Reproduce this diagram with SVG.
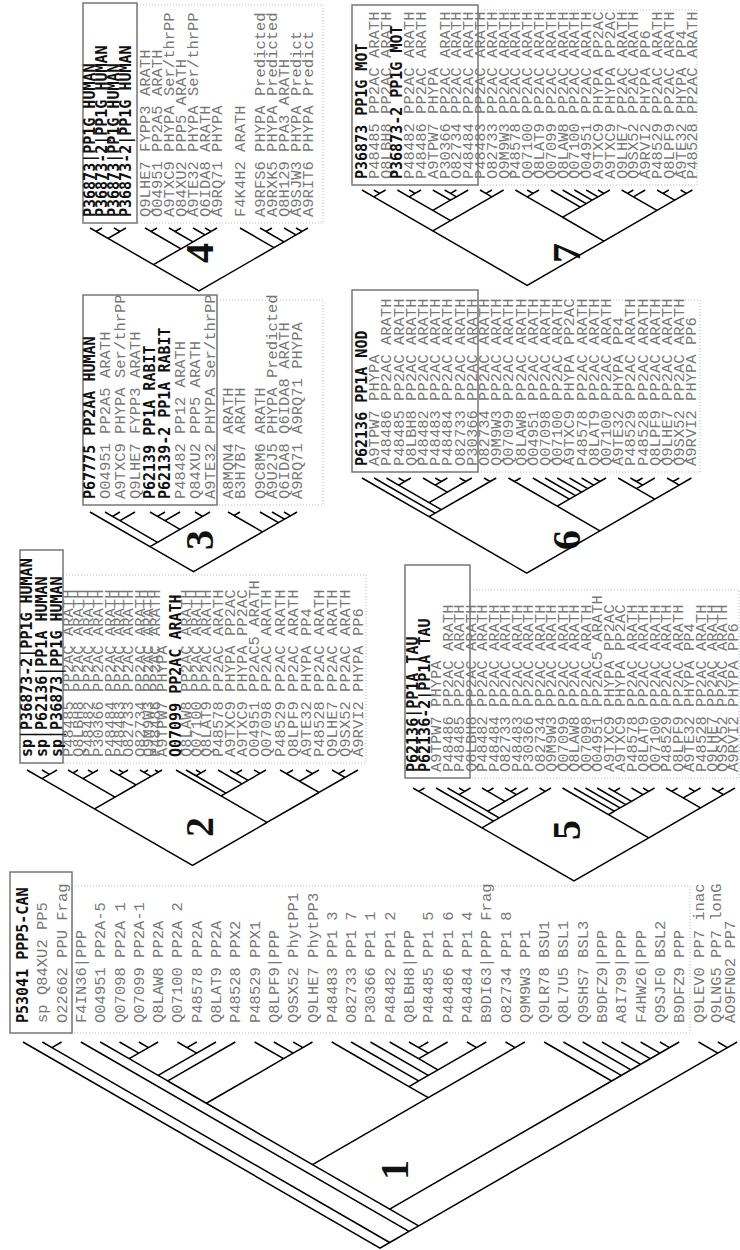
<svg xmlns="http://www.w3.org/2000/svg" width="740" height="1250" viewBox="0 0 740 1250">
<style>
.lb{font-family:"Liberation Mono",monospace;font-size:15.5px;fill:#777;white-space:pre}
.bd{font-family:"DejaVu Sans Mono",monospace;font-weight:bold;font-size:15px;fill:#111;white-space:pre}
.br{fill:none;stroke:#000;stroke-width:1.5;vector-effect:non-scaling-stroke;stroke-linejoin:miter}
.sb{fill:none;stroke:#777;stroke-width:1.5}
.db{fill:none;stroke:#bbb;stroke-width:1;stroke-dasharray:1 2}
.num{font-family:"Liberation Serif",serif;font-weight:bold;font-size:40px;fill:#111;text-anchor:middle}
</style>
<rect width="740" height="1250" fill="#fff"/>

<!-- TREE 1 -->
<g id="tree1">
<rect class="db" x="72" y="886" width="618" height="147"/>
<rect class="sb" x="10" y="872" width="62" height="161"/>
<g id="t1-labels">
<text class="bd" transform="translate(28 1023) rotate(-90)">P53041 PPP5-CAN</text>
<text class="lb" transform="translate(47.3 1023) rotate(-90)">sp Q84XU2 PP5</text>
<text class="lb" transform="translate(66.6 1023) rotate(-90)">O22662 PPU Frag</text>
<text class="lb" transform="translate(85.9 1023) rotate(-90)">F4IN36|PPP</text>
<text class="lb" transform="translate(105.2 1023) rotate(-90)">O04951 PP2A-5</text>
<text class="lb" transform="translate(124.5 1023) rotate(-90)">Q07098 PP2A 1</text>
<text class="lb" transform="translate(143.8 1023) rotate(-90)">Q07099 PP2A-1</text>
<text class="lb" transform="translate(163.1 1023) rotate(-90)">Q8LAW8 PP2A</text>
<text class="lb" transform="translate(182.4 1023) rotate(-90)">Q07100 PP2A 2</text>
<text class="lb" transform="translate(201.7 1023) rotate(-90)">P48578 PP2A</text>
<text class="lb" transform="translate(221 1023) rotate(-90)">Q8LAT9 PP2A</text>
<text class="lb" transform="translate(240.3 1023) rotate(-90)">P48528 PPX2</text>
<text class="lb" transform="translate(259.6 1023) rotate(-90)">P48529 PPX1</text>
<text class="lb" transform="translate(278.9 1023) rotate(-90)">Q8LPF9|PPP</text>
<text class="lb" transform="translate(298.2 1023) rotate(-90)">Q9SX52 PhytPP1</text>
<text class="lb" transform="translate(317.5 1023) rotate(-90)">Q9LHE7 PhytPP3</text>
<text class="lb" transform="translate(336.8 1023) rotate(-90)">P48483 PP1 3</text>
<text class="lb" transform="translate(356.1 1023) rotate(-90)">O82733 PP1 7</text>
<text class="lb" transform="translate(375.4 1023) rotate(-90)">P30366 PP1 1</text>
<text class="lb" transform="translate(394.7 1023) rotate(-90)">P48482 PP1 2</text>
<text class="lb" transform="translate(414 1023) rotate(-90)">Q8LBH8|PPP</text>
<text class="lb" transform="translate(433.3 1023) rotate(-90)">P48485 PP1 5</text>
<text class="lb" transform="translate(452.6 1023) rotate(-90)">P48486 PP1 6</text>
<text class="lb" transform="translate(471.9 1023) rotate(-90)">P48484 PP1 4</text>
<text class="lb" transform="translate(491.2 1023) rotate(-90)">B9DI63|PPP Frag</text>
<text class="lb" transform="translate(510.5 1023) rotate(-90)">O82734 PP1 8</text>
<text class="lb" transform="translate(529.8 1023) rotate(-90)">Q9M9W3 PP1</text>
<text class="lb" transform="translate(549.1 1023) rotate(-90)">Q9LR78 BSU1</text>
<text class="lb" transform="translate(568.4 1023) rotate(-90)">Q8L7U5 BSL1</text>
<text class="lb" transform="translate(587.7 1023) rotate(-90)">Q9SHS7 BSL3</text>
<text class="lb" transform="translate(607 1023) rotate(-90)">B9DFZ9|PPP</text>
<text class="lb" transform="translate(626.3 1023) rotate(-90)">A8I799|PPP</text>
<text class="lb" transform="translate(645.6 1023) rotate(-90)">F4HW26|PPP</text>
<text class="lb" transform="translate(664.9 1023) rotate(-90)">Q9SJF0 BSL2</text>
<text class="lb" transform="translate(684.2 1023) rotate(-90)">B9DFZ9 PPP</text>
<text class="lb" transform="translate(703.5 1023) rotate(-90)">Q9LEV0 PP7 inac</text>
<text class="lb" transform="translate(721 1023) rotate(-90)">Q9LNG5 PP7 lonG</text>
<text class="lb" transform="translate(735 1023) rotate(-90)">AO9FN02 PP7</text>
</g>
<text id="t1-num" class="num" transform="translate(408 1170) rotate(-90)">1</text>
</g>

<!-- TREE 2 -->
<g id="tree2">
<rect class="db" x="63" y="575" width="303" height="188"/>
<rect class="sb" x="20" y="550" width="43" height="213"/>
<g id="t2-labels">
<text class="bd" transform="translate(32 757) rotate(-90)">sp|P36873-2|PP1G HUMAN</text>
<text class="bd" transform="translate(47 757) rotate(-90)">sp|P62136|PP1A HUMAN</text>
<text class="bd" transform="translate(62 757) rotate(-90)">sp|P36873|PP1G HUMAN</text>
<text class="lb" transform="translate(73 757) rotate(-90)">P48485 PP2AC ARATH</text>
<text class="lb" transform="translate(83 757) rotate(-90)">Q8LBH8 PP2AC ARATH</text>
<text class="lb" transform="translate(93 757) rotate(-90)">P48482 PP2AC ARATH</text>
<text class="lb" transform="translate(103 757) rotate(-90)">P30366 PP2AC ARATH</text>
<text class="lb" transform="translate(115 757) rotate(-90)">P48484 PP2AC ARATH</text>
<text class="lb" transform="translate(124 757) rotate(-90)">P48483 PP2AC ARATH</text>
<text class="lb" transform="translate(133 757) rotate(-90)">O82733 PP2AC ARATH</text>
<text class="lb" transform="translate(145 757) rotate(-90)">O82734 PP2AC ARATH</text>
<text class="lb" transform="translate(153 757) rotate(-90)">Q9M9W3 PP2AC ARATH</text>
<text class="lb" transform="translate(160 757) rotate(-90)">P48486 PP2AC ARATH</text>
<text class="lb" transform="translate(167 757) rotate(-90)">A9TPW7 PHYPA</text>
<text class="bd" transform="translate(181 757) rotate(-90)">Q07099 PP2AC ARATH</text>
<text class="lb" transform="translate(191 757) rotate(-90)">Q8LAW8 PP2AC ARATH</text>
<text class="lb" transform="translate(201 757) rotate(-90)">Q07100 PP2AC ARATH</text>
<text class="lb" transform="translate(211 757) rotate(-90)">Q8LAT9 PP2AC ARATH</text>
<text class="lb" transform="translate(223 757) rotate(-90)">P48578 PP2AC ARATH</text>
<text class="lb" transform="translate(235 757) rotate(-90)">A9TXC9 PHYPA PP2AC</text>
<text class="lb" transform="translate(247 757) rotate(-90)">A9TXC9 PHYPA PP2AC</text>
<text class="lb" transform="translate(259 757) rotate(-90)">O04951 PP2AC5 ARATH</text>
<text class="lb" transform="translate(271 757) rotate(-90)">Q07098 PP2AC ARATH</text>
<text class="lb" transform="translate(285 757) rotate(-90)">P48529 PP2AC ARATH</text>
<text class="lb" transform="translate(298 757) rotate(-90)">Q8LPF9 PP2AC ARATH</text>
<text class="lb" transform="translate(311 757) rotate(-90)">A9TE32 PHYPA PP4</text>
<text class="lb" transform="translate(324 757) rotate(-90)">P48528 PP2AC ARATH</text>
<text class="lb" transform="translate(337 757) rotate(-90)">Q9LHE7 PP2AC ARATH</text>
<text class="lb" transform="translate(350 757) rotate(-90)">Q9SX52 PP2AC ARATH</text>
<text class="lb" transform="translate(363 757) rotate(-90)">A9RVI2 PHYPA PP6</text>
</g>
<text id="t2-num" class="num" transform="translate(213 827) rotate(-90)">2</text>
</g>

<!-- TREE 3 -->
<g id="tree3">
<rect class="db" x="217" y="300" width="106" height="205"/>
<rect class="sb" x="83" y="295" width="134" height="210"/>
<g id="t3-labels">
<text class="bd" transform="translate(95 499) rotate(-90)">P67775 PP2AA HUMAN</text>
<text class="lb" transform="translate(110 499) rotate(-90)">O04951 PP2A5 ARATH</text>
<text class="lb" transform="translate(125 499) rotate(-90)">A9TXC9 PHYPA Ser/thrPP</text>
<text class="lb" transform="translate(140 499) rotate(-90)">Q9LHE7 FYPP3 ARATH</text>
<text class="bd" transform="translate(155 499) rotate(-90)">P62139 PP1A RABIT</text>
<text class="bd" transform="translate(170 499) rotate(-90)">P62139-2 PP1A RABIT</text>
<text class="lb" transform="translate(185 499) rotate(-90)">P48482 PP12 ARATH</text>
<text class="lb" transform="translate(200 499) rotate(-90)">Q84XU2 PPP5 ARATH</text>
<text class="lb" transform="translate(215 499) rotate(-90)">A9TE32 PHYPA Ser/thrPP</text>
<text class="lb" transform="translate(233 499) rotate(-90)">A8MQN4 ARATH</text>
<text class="lb" transform="translate(245 499) rotate(-90)">B3H7B7 ARATH</text>
<text class="lb" transform="translate(265 499) rotate(-90)">Q9C8M6 ARATH</text>
<text class="lb" transform="translate(277 499) rotate(-90)">A9U2J5 PHYPA Predicted</text>
<text class="lb" transform="translate(289 499) rotate(-90)">Q6IDA8 Q6IDA8 ARATH</text>
<text class="lb" transform="translate(302 499) rotate(-90)">A9RQ71 A9RQ71 PHYPA</text>
</g>
<text id="t3-num" class="num" transform="translate(213 540) rotate(-90)">3</text>
</g>

<!-- TREE 4 -->
<g id="tree4">
<rect class="db" x="137" y="5" width="186" height="218"/>
<rect class="sb" x="83" y="3" width="54" height="220"/>
<g id="t4-labels">
<text class="bd" transform="translate(95 217) rotate(-90)">P36873|PP1G HUMAN</text>
<text class="bd" transform="translate(107 217) rotate(-90)">P36873-2|PP1G HUMAN</text>
<text class="bd" transform="translate(119 217) rotate(-90)">P36873|PP1G HUMAN</text>
<text class="bd" transform="translate(131 217) rotate(-90)">P36873-2|PP1G HUMAN</text>
<text class="lb" transform="translate(150 217) rotate(-90)">Q9LHE7 FYPP3 ARATH</text>
<text class="lb" transform="translate(162 217) rotate(-90)">O04951 PP2A5 ARATH</text>
<text class="lb" transform="translate(174 217) rotate(-90)">A9TXC9 PHYPA Ser/thrPP</text>
<text class="lb" transform="translate(186 217) rotate(-90)">Q84XU2 PPP5 ARATH</text>
<text class="lb" transform="translate(198 217) rotate(-90)">A9TE32 PHYPA Ser/thrPP</text>
<text class="lb" transform="translate(210 217) rotate(-90)">Q6IDA8 ARATH</text>
<text class="lb" transform="translate(222 217) rotate(-90)">A9RQ71 PHYPA</text>
<text class="lb" transform="translate(245 217) rotate(-90)">F4K4H2 ARATH</text>
<text class="lb" transform="translate(265 217) rotate(-90)">A9RFS6 PHYPA Predicted</text>
<text class="lb" transform="translate(277 217) rotate(-90)">A9RXK5 PHYPA Predicted</text>
<text class="lb" transform="translate(289 217) rotate(-90)">Q8H129 PPA3 ARATH</text>
<text class="lb" transform="translate(301 217) rotate(-90)">A9SJW3 PHYPA Predict</text>
<text class="lb" transform="translate(313 217) rotate(-90)">A9RIT6 PHYPA Predict</text>
</g>
<text id="t4-num" class="num" transform="translate(213 253) rotate(-90)">4</text>
</g>

<!-- TREE 5 -->
<g id="tree5">
<rect class="db" x="470" y="590" width="269" height="188"/>
<rect class="sb" x="405" y="565" width="65" height="213"/>
<g id="t5-labels">
<text class="bd" transform="translate(418 772) rotate(-90)">P62136|PP1A TAU</text>
<text class="bd" transform="translate(429.5 772) rotate(-90)">P62136-2|PP1A TAU</text>
<text class="lb" transform="translate(441 772) rotate(-90)">A9TPW7 PHYPA</text>
<text class="lb" transform="translate(452.5 772) rotate(-90)">P48486 PP2AC ARATH</text>
<text class="lb" transform="translate(464 772) rotate(-90)">P48485 PP2AC ARATH</text>
<text class="lb" transform="translate(475.5 772) rotate(-90)">Q8LBH8 PP2AC ARATH</text>
<text class="lb" transform="translate(487 772) rotate(-90)">P48482 PP2AC ARATH</text>
<text class="lb" transform="translate(498.5 772) rotate(-90)">P48484 PP2AC ARATH</text>
<text class="lb" transform="translate(510 772) rotate(-90)">O82733 PP2AC ARATH</text>
<text class="lb" transform="translate(521.5 772) rotate(-90)">P48483 PP2AC ARATH</text>
<text class="lb" transform="translate(533 772) rotate(-90)">P30366 PP2AC ARATH</text>
<text class="lb" transform="translate(544.5 772) rotate(-90)">O82734 PP2AC ARATH</text>
<text class="lb" transform="translate(556 772) rotate(-90)">Q9M9W3 PP2AC ARATH</text>
<text class="lb" transform="translate(567.5 772) rotate(-90)">Q07099 PP2AC ARATH</text>
<text class="lb" transform="translate(579 772) rotate(-90)">Q8LAW8 PP2AC ARATH</text>
<text class="lb" transform="translate(590.5 772) rotate(-90)">Q07098 PP2AC ARATH</text>
<text class="lb" transform="translate(602 772) rotate(-90)">O04951 PP2AC5 ARATH</text>
<text class="lb" transform="translate(613.5 772) rotate(-90)">A9TXC9 PHYPA PP2AC</text>
<text class="lb" transform="translate(625 772) rotate(-90)">A9TXC9 PHYPA PP2AC</text>
<text class="lb" transform="translate(636.5 772) rotate(-90)">P48578 PP2AC ARATH</text>
<text class="lb" transform="translate(648 772) rotate(-90)">Q8LAT9 PP2AC ARATH</text>
<text class="lb" transform="translate(659.5 772) rotate(-90)">Q07100 PP2AC ARATH</text>
<text class="lb" transform="translate(671 772) rotate(-90)">P48529 PP2AC ARATH</text>
<text class="lb" transform="translate(682.5 772) rotate(-90)">Q8LPF9 PP2AC ARATH</text>
<text class="lb" transform="translate(694 772) rotate(-90)">A9TE32 PHYPA PP4</text>
<text class="lb" transform="translate(705.5 772) rotate(-90)">P48528 PP2AC ARATH</text>
<text class="lb" transform="translate(716.5 772) rotate(-90)">Q9LHE7 PP2AC ARATH</text>
<text class="lb" transform="translate(727 772) rotate(-90)">Q9SX52 PP2AC ARATH</text>
<text class="lb" transform="translate(737.5 772) rotate(-90)">A9RVI2 PHYPA PP6</text>
</g>
<text id="t5-num" class="num" transform="translate(580 830) rotate(-90)">5</text>
</g>

<!-- TREE 6 -->
<g id="tree6">
<rect class="db" x="478" y="300" width="222" height="172"/>
<rect class="sb" x="352" y="290" width="126" height="182"/>
<g id="t6-labels">
<text class="bd" transform="translate(367 466) rotate(-90)">P62136 PP1A NOD</text>
<text class="lb" transform="translate(379.2 466) rotate(-90)">A9TPW7 PHYPA</text>
<text class="lb" transform="translate(391.4 466) rotate(-90)">P48486 PP2AC ARATH</text>
<text class="lb" transform="translate(403.6 466) rotate(-90)">P48485 PP2AC ARATH</text>
<text class="lb" transform="translate(415.8 466) rotate(-90)">Q8LBH8 PP2AC ARATH</text>
<text class="lb" transform="translate(428 466) rotate(-90)">P48482 PP2AC ARATH</text>
<text class="lb" transform="translate(440.2 466) rotate(-90)">P48483 PP2AC ARATH</text>
<text class="lb" transform="translate(452.4 466) rotate(-90)">P48484 PP2AC ARATH</text>
<text class="lb" transform="translate(464.6 466) rotate(-90)">O82733 PP2AC ARATH</text>
<text class="lb" transform="translate(476.8 466) rotate(-90)">P30366 PP2AC ARATH</text>
<text class="lb" transform="translate(489 466) rotate(-90)">O82734 PP2AC ARATH</text>
<text class="lb" transform="translate(501.2 466) rotate(-90)">Q9M9W3 PP2AC ARATH</text>
<text class="lb" transform="translate(513.4 466) rotate(-90)">Q07099 PP2AC ARATH</text>
<text class="lb" transform="translate(525.6 466) rotate(-90)">Q8LAW8 PP2AC ARATH</text>
<text class="lb" transform="translate(537.8 466) rotate(-90)">O04951 PP2AC ARATH</text>
<text class="lb" transform="translate(550 466) rotate(-90)">Q07098 PP2AC ARATH</text>
<text class="lb" transform="translate(562.2 466) rotate(-90)">Q07100 PP2AC ARATH</text>
<text class="lb" transform="translate(574.4 466) rotate(-90)">A9TXC9 PHYPA PP2AC</text>
<text class="lb" transform="translate(586.6 466) rotate(-90)">P48578 PP2AC ARATH</text>
<text class="lb" transform="translate(598.8 466) rotate(-90)">Q8LAT9 PP2AC ARATH</text>
<text class="lb" transform="translate(611 466) rotate(-90)">Q07100 PP2AC ARATH</text>
<text class="lb" transform="translate(623.2 466) rotate(-90)">A9TE32 PHYPA PP4</text>
<text class="lb" transform="translate(635.4 466) rotate(-90)">P48529 PP2AC ARATH</text>
<text class="lb" transform="translate(647.6 466) rotate(-90)">P48528 PP2AC ARATH</text>
<text class="lb" transform="translate(659.8 466) rotate(-90)">Q8LPF9 PP2AC ARATH</text>
<text class="lb" transform="translate(672 466) rotate(-90)">Q9LHE7 PP2AC ARATH</text>
<text class="lb" transform="translate(684.2 466) rotate(-90)">Q9SX52 PP2AC ARATH</text>
<text class="lb" transform="translate(696.4 466) rotate(-90)">A9RVI2 PHYPA PP6</text>
</g>
<text id="t6-num" class="num" transform="translate(580 540) rotate(-90)">6</text>
</g>

<!-- TREE 7 -->
<g id="tree7">
<rect class="db" x="478" y="10" width="219" height="175"/>
<rect class="sb" x="352" y="5" width="126" height="180"/>
<g id="t7-labels">
<text class="bd" transform="translate(367 179) rotate(-90)">P36873 PP1G MOT</text>
<text class="lb" transform="translate(378.8 179) rotate(-90)">P48485 PP2AC ARATH</text>
<text class="lb" transform="translate(390.6 179) rotate(-90)">Q8LBH8 PP2AC ARATH</text>
<text class="bd" transform="translate(402.4 179) rotate(-90)">P36873-2 PP1G MOT</text>
<text class="lb" transform="translate(414.2 179) rotate(-90)">P48482 PP2AC ARATH</text>
<text class="lb" transform="translate(426 179) rotate(-90)">P48486 PP2AC ARATH</text>
<text class="lb" transform="translate(437.8 179) rotate(-90)">A9TPW7 PHYPA</text>
<text class="lb" transform="translate(449.6 179) rotate(-90)">P30366 PP2AC ARATH</text>
<text class="lb" transform="translate(461.4 179) rotate(-90)">O82734 PP2AC ARATH</text>
<text class="lb" transform="translate(473.2 179) rotate(-90)">P48484 PP2AC ARATH</text>
<text class="lb" transform="translate(485 179) rotate(-90)">P48483 PP2AC ARATH</text>
<text class="lb" transform="translate(496.8 179) rotate(-90)">O82733 PP2AC ARATH</text>
<text class="lb" transform="translate(508.6 179) rotate(-90)">Q9M9W3 PP2AC ARATH</text>
<text class="lb" transform="translate(520.4 179) rotate(-90)">P48578 PP2AC ARATH</text>
<text class="lb" transform="translate(532.2 179) rotate(-90)">Q07100 PP2AC ARATH</text>
<text class="lb" transform="translate(544 179) rotate(-90)">Q8LAT9 PP2AC ARATH</text>
<text class="lb" transform="translate(555.8 179) rotate(-90)">Q07099 PP2AC ARATH</text>
<text class="lb" transform="translate(567.6 179) rotate(-90)">Q8LAW8 PP2AC ARATH</text>
<text class="lb" transform="translate(579.4 179) rotate(-90)">Q07100 PP2AC ARATH</text>
<text class="lb" transform="translate(591.2 179) rotate(-90)">O04951 PP2AC ARATH</text>
<text class="lb" transform="translate(603 179) rotate(-90)">A9TXC9 PHYPA PP2AC</text>
<text class="lb" transform="translate(614.8 179) rotate(-90)">A9TXC9 PHYPA PP2AC</text>
<text class="lb" transform="translate(626.6 179) rotate(-90)">Q9LHE7 PP2AC ARATH</text>
<text class="lb" transform="translate(638.4 179) rotate(-90)">Q9SX52 PP2AC ARATH</text>
<text class="lb" transform="translate(650.2 179) rotate(-90)">A9RVI2 PHYPA PP6</text>
<text class="lb" transform="translate(662 179) rotate(-90)">P48529 PP2AC ARATH</text>
<text class="lb" transform="translate(673.8 179) rotate(-90)">Q8LPF9 PP2AC ARATH</text>
<text class="lb" transform="translate(685.6 179) rotate(-90)">A9TE32 PHYPA PP4</text>
<text class="lb" transform="translate(697.4 179) rotate(-90)">P48528 PP2AC ARATH</text>
</g>
<text id="t7-num" class="num" transform="translate(580 253) rotate(-90)">7</text>
</g>

<!-- CONNECTORS -->
<g id="connectors">
<path id="t1-branches" class="br" transform="matrix(19.3,0,0,11.14,3.7,1042)" d="M1,0L19.5,18.5L20,18M2.5,.5L20,18L21,17M2,0L2.5,.5L3,0M4,0L21,17L21.5,16.5M20,15L21.5,16.5L37,1M36,0L37,1L37.5,.5M37,0L37.5,.5L38,0M16,11L20,15L31.5,3.5M35,0L31.5,3.5M28,0L31.5,3.5M29,0L32,3M30,0L32.5,2.5M31,0L33,2M32,0L33.5,1.5M33,0L34,1M34,0L34.5,.5M10.5,5.5L16,11L22,5M8.5,3.5L10.5,5.5L14.5,1.5M8,3L8.5,3.5L12,0M6.5,1.5L8,3L10,1M5,0L6.5,1.5L7,1M6,0L7,1L7.5,.5M7,0L7.5,.5L8,0M9.5,.5L10,1L11,0M9,0L9.5,.5L10,0M13,0L14.5,1.5L15,1M14,0L15,1L15.5,.5M15,0L15.5,.5L16,0M21,4L22,5L26.5,.5M26,0L26.5,.5L27,0M17,0L21,4L21.5,3.5M18,0L21.5,3.5L22,3M19,0L22,3L22.5,2.5M21.5,1.5L22.5,2.5L24.5,.5M24,0L24.5,.5L25,0M20,0L21.5,1.5L22,1M21.5,.5L22,1L23,0M21,0L21.5,.5L22,0"/>
<path id="t2-branches" class="br" transform="matrix(1,0,0,0.577,0,770)" d="M94.5,67.5L192.5,165.5L267,91M42,15L94.5,67.5L115,47M27,0L42,15L49.5,7.5M42,0L49.5,7.5L57,0M83,15L115,47L136,26M73,5L83,15L93,5M68,0L73,5L78,0M88,0L93,5L98,0M119,9L136,26L151,11M110,0L119,9L123.5,4.5M119,0L123.5,4.5L128,0M144,4L151,11L158.5,3.5M140,0L144,4L148,0M155,0L158.5,3.5L162,0M221,45L267,91L319,39M176,0L221,45L226,40M196,10L226,40L242,24M186,0L196,10L201,5M196,0L201,5L206,0M218,0L242,24L248,18M236,6L248,18L260,6M230,0L236,6L242,0M254,0L260,6L266,0M299.5,19.5L319,39L345,13M286.5,6.5L299.5,19.5L312.5,6.5M280,0L286.5,6.5L293,0M306,0L312.5,6.5L319,0M338.5,6.5L345,13L358,0M332,0L338.5,6.5L345,0"/>
<path id="t3-branches" class="br" d="M150,546.6L193.5,571.7L262.5,531.9M90,512L150,546.6L157.5,542.3M120,520.7L157.5,542.3L180,529.3M112.5,516.3L120,520.7L135,512M105,512L112.5,516.3L120,512M165,520.7L180,529.3L202.5,516.3M157.5,516.3L165,520.7L180,512M150,512L157.5,516.3L165,512M195,512L202.5,516.3L210,512M234,515.5L262.5,531.9L278.5,522.7M228,512L234,515.5L240,512M260,512L278.5,522.7L284.5,519.2M272,512L284.5,519.2L290.5,515.8M284,512L290.5,515.8L297,512"/>
<path id="t4-branches" class="br" d="M153.5,264.6L199,290.9L274,247.6M108,238.4L153.5,264.6L181,248.8M96,231.5L108,238.4L120,231.5M90,228L96,231.5L102,228M114,228L120,231.5L126,228M151,231.5L181,248.8L193,241.8M145,228L151,231.5L157,228M175,231.5L193,241.8L205,234.9M169,228L175,231.5L181,228M193,228L205,234.9L211,231.5M205,228L211,231.5L217,228M240,228L274,247.6L284,241.8M266,231.5L284,241.8L296,234.9M260,228L266,231.5L272,228M284,228L296,234.9L302,231.5M296,228L302,231.5L308,228"/>
<path id="t5-branches" class="br" transform="matrix(11.5,0,0,6.64,401.5,788)" d="M7,6L15,14L21.5,7.5M1.5,.5L7,6L8,5M1,0L1.5,.5L2,0M3,0L8,5L8.5,4.5M7.5,3.5L8.5,4.5L12.5,.5M12,0L12.5,.5L13,0M5,1L7.5,3.5L9,2M4,0L5,1L5.5,.5M5,0L5.5,.5L6,0M7.5,.5L9,2L10,1M7,0L7.5,.5L8,0M9.5,.5L10,1L11,0M9,0L9.5,.5L10,0M18,4L21.5,7.5L26,3M14,0L18,4L18.5,3.5M15,0L18.5,3.5L19,3M16,0L19,3L19.5,2.5M17,0L19.5,2.5L20,2M18.5,.5L20,2L21,1M18,0L18.5,.5L19,0M20,0L21,1L21.5,.5M21,0L21.5,.5L22,0M24.5,1.5L26,3L28,1M23.5,.5L24.5,1.5L25.5,.5M23,0L23.5,.5L24,0M25,0L25.5,.5L26,0M27.5,.5L28,1L29,0M27,0L27.5,.5L28,0"/>
<path id="t6-branches" class="br" transform="matrix(12.2,0,0,7.04,349.8,478)" d="M6.5,5.5L14.5,13.5L20.5,7.5M1,0L6.5,5.5L7,5M2,0L7,5L7.5,4.5M6.5,3.5L7.5,4.5L11.5,.5M11,0L11.5,.5L12,0M4,1L6.5,3.5L8,2M3,0L4,1L4.5,.5M4,0L4.5,.5L5,0M7,1L8,2L9.5,.5M6,0L7,1L7.5,.5M7,0L7.5,.5L8,0M9,0L9.5,.5L10,0M17,4L20.5,7.5L25,3M13.5,.5L17,4L18,3M13,0L13.5,.5L14,0M15,0L18,3L18.5,2.5M16,0L18.5,2.5L19,2M17,0L19,2L19.5,1.5M18,0L19.5,1.5L20,1M19,0L20,1L20.5,.5M20,0L20.5,.5L21,0M23.5,1.5L25,3L27,1M22,0L23.5,1.5L24,1M23.5,.5L24,1L25,0M23,0L23.5,.5L24,0M26.5,.5L27,1L28,0M26,0L26.5,.5L27,0"/>
<path id="t7-branches" class="br" transform="matrix(11.8,0,0,6.81,350.2,190)" d="M7,6L15,14L21.5,7.5M2,1L7,6L8.5,4.5M1,0L2,1L2.5,.5M2,0L2.5,.5L3,0M7,3L8.5,4.5L12,1M5,1L7,3L8.5,1.5M4,0L5,1L5.5,.5M5,0L5.5,.5L6,0M7,0L8.5,1.5L9,1M8.5,.5L9,1L10,0M8,0L8.5,.5L9,0M11.5,.5L12,1L13,0M11,0L11.5,.5L12,0M18,4L21.5,7.5L26,3M15,1L18,4L19.5,2.5M14,0L15,1L15.5,.5M15,0L15.5,.5L16,0M17,0L19.5,2.5L20,2M18,0L20,2L20.5,1.5M19,0L20.5,1.5L21,1M20,0L21,1L21.5,.5M21,0L21.5,.5L22,0M24,1L26,3L27.5,1.5M23.5,.5L24,1L25,0M23,0L23.5,.5L24,0M26.5,.5L27.5,1.5L28.5,.5M26,0L26.5,.5L27,0M28,0L28.5,.5L29,0"/>
</g>
</svg>
